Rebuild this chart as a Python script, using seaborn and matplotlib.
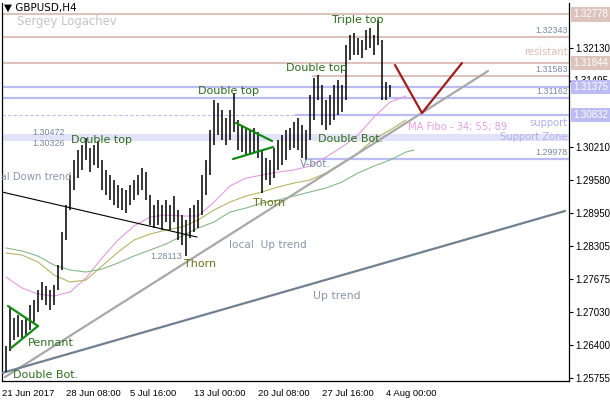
import matplotlib
matplotlib.use("Agg")
import matplotlib.pyplot as plt
import matplotlib.transforms as mtransforms
import seaborn as sns

# ---- data ----
# bar highs / lows (one per H4 bar, left to right)
highs = [1.2638, 1.2712, 1.2691, 1.2698, 1.2688, 1.2691, 1.2717, 1.2726, 1.2746, 1.2761,
         1.2753, 1.2746, 1.2755, 1.2794, 1.2857, 1.2910, 1.2968, 1.2997, 1.3016, 1.3026,
         1.3040, 1.3020, 1.3026, 1.3033, 1.2997, 1.2977, 1.2968, 1.2958, 1.2948, 1.2943,
         1.2939, 1.2948, 1.2958, 1.2968, 1.2981, 1.2973, 1.2929, 1.2910, 1.2920, 1.2910,
         1.2920, 1.2910, 1.2927, 1.2900, 1.2890, 1.2880, 1.2904, 1.2910, 1.2920, 1.2968,
         1.2997, 1.3054, 1.3113, 1.3107, 1.3093, 1.3078, 1.3093, 1.3126, 1.3074, 1.3064,
         1.3058, 1.3054, 1.3058, 1.3051, 1.3016, 1.3000, 1.2997, 1.3020, 1.3035, 1.3045,
         1.3054, 1.3058, 1.3070, 1.3078, 1.3064, 1.3054, 1.3122, 1.3155, 1.3161, 1.3141,
         1.3113, 1.3122, 1.3141, 1.3151, 1.3141, 1.3219, 1.3238, 1.3242, 1.3232, 1.3228,
         1.3248, 1.3252, 1.3238, 1.3267, 1.3228, 1.3147, 1.3141]
lows = [1.2587, 1.2628, 1.2649, 1.2654, 1.2653, 1.2658, 1.2668, 1.2684, 1.2703, 1.2726,
        1.2717, 1.2707, 1.2717, 1.2746, 1.2785, 1.2842, 1.2900, 1.2939, 1.2962, 1.2977,
        1.2997, 1.2973, 1.2987, 1.2981, 1.2939, 1.2929, 1.2920, 1.2910, 1.2904, 1.2900,
        1.2894, 1.2910, 1.2920, 1.2929, 1.2939, 1.2920, 1.2871, 1.2865, 1.2871, 1.2861,
        1.2877, 1.2861, 1.2877, 1.2842, 1.2832, 1.2811, 1.2846, 1.2857, 1.2865, 1.2890,
        1.2929, 1.2968, 1.3026, 1.3045, 1.3035, 1.3026, 1.3035, 1.3051, 1.3016, 1.3012,
        1.3004, 1.3006, 1.3012, 1.3000, 1.2933, 1.2958, 1.2948, 1.2962, 1.2977, 1.2987,
        1.2997, 1.3016, 1.3020, 1.3016, 1.3000, 1.2997, 1.3035, 1.3074, 1.3113, 1.3064,
        1.3054, 1.3064, 1.3074, 1.3084, 1.3089, 1.3113, 1.3190, 1.3199, 1.3199, 1.3194,
        1.3209, 1.3213, 1.3199, 1.3219, 1.3113, 1.3113, 1.3118]

# moving averages (Fibo 34 / 55 / 89), sampled every 4 bars
ma_x = [0, 4, 8, 12, 16, 20, 24, 28, 32, 36, 40, 44, 48, 52, 56, 60, 64, 68, 72, 76,
        80, 84, 88, 92, 96, 100]
ma34 = [1.27705, 1.27493, 1.27377, 1.27338, 1.27416, 1.27686, 1.28072, 1.28420, 1.28691,
        1.28865, 1.28903, 1.28884, 1.28884, 1.29154, 1.29464, 1.29618, 1.29676, 1.29734,
        1.29773, 1.29850, 1.30024, 1.30217, 1.30449, 1.30797, 1.31086, 1.31202]
ma55 = [1.28169, 1.28130, 1.27995, 1.27744, 1.27609, 1.27647, 1.27918, 1.28188, 1.28420,
        1.28536, 1.28613, 1.28671, 1.28807, 1.29000, 1.29154, 1.29270, 1.29348, 1.29444,
        1.29521, 1.29579, 1.29715, 1.29908, 1.30101, 1.30372, 1.30545, 1.30739]
ma89_x = ma_x + [102]
ma89 = [1.28266, 1.28208, 1.28111, 1.27937, 1.27841, 1.27802, 1.27860, 1.27976, 1.28111,
        1.28227, 1.28343, 1.28498, 1.28652, 1.28768, 1.28961, 1.29038, 1.29135, 1.29193,
        1.29270, 1.29348, 1.29425, 1.29541, 1.29715, 1.29850, 1.29966, 1.30120, 1.30159]

date_pos = [-1, 15, 31, 47, 63, 79, 95]
date_labels = ["21 Jun 2017", "28 Jun 08:00", "5 Jul 16:00", "13 Jul 00:00",
               "20 Jul 08:00", "27 Jul 16:00", "4 Aug 00:00"]
price_ticks = [1.32130, 1.30210, 1.29580, 1.28950, 1.28305, 1.27675, 1.27030, 1.26400, 1.25755]

resist_levels = [1.32778, 1.32343, 1.31844]
support_levels = [1.31375, 1.31162]
zone_low, zone_high = 1.30326, 1.30472

# trend lines: (x0, y0, x1, y1)
down_trend = (-1, 1.29348, 47.75, 1.28478)
local_up = (-0.25, 1.25773, 120.5, 1.31685)
up_trend = (-1, 1.25851, 139.75, 1.28981)
red_v_x = [97.25, 104, 114]
red_v_y = [1.31801, 1.30874, 1.31840]
pennant_x = [0.5, 8, 1.25]
pennant_y = [1.27145, 1.26759, 1.26334]
tri_top = (57.5, 1.30681, 66.5, 1.30333)
tri_bot = (56.75, 1.29985, 66.75, 1.30217)

# ---- drawing ----
sns.set_theme(style="white")
plt.rcParams["font.family"] = ["DejaVu Sans"]
num_font = ["Liberation Sans", "DejaVu Sans"]

fig = plt.figure(figsize=(6.1, 4.0), dpi=100)
ax = fig.add_axes([2 / 610, 19 / 400, 567 / 610, 378 / 400])
ax.set_xlim(-1, 140.75)
ax.set_ylim(1.25697, 1.32999)

pink_lvl = "#dcc4bc"
blue_lvl = "#bcbcf4"
lab_col = "#7888a0"
ann_col = "#2e6e1e"
gray_txt = "#8a96aa"

# support zone and horizontal levels
ax.axhspan(zone_low, zone_high, color="#e2e2f8", lw=0, zorder=0)
for lv in resist_levels:
    ax.axhline(lv, color=pink_lvl, lw=1.5, zorder=1)
ax.hlines(1.31583, 76.5, 140.75, color=pink_lvl, lw=1.5, zorder=1)
for lv in support_levels:
    ax.axhline(lv, color=blue_lvl, lw=1.6, zorder=1)
ax.hlines(1.30832, -1, 72.25, color=blue_lvl, lw=0.8, ls=(0, (3, 2)), zorder=1)
ax.hlines(1.30832, 72.25, 140.75, color=blue_lvl, lw=1.6, zorder=1)
ax.hlines(1.29978, 75.25, 140.75, color=blue_lvl, lw=1.6, zorder=1)

# moving averages
sns.lineplot(x=ma_x, y=ma34, ax=ax, color="#e29ce2", lw=0.8, zorder=2)
sns.lineplot(x=ma_x, y=ma55, ax=ax, color="#b8b468", lw=0.8, zorder=2)
sns.lineplot(x=ma89_x, y=ma89, ax=ax, color="#88b888", lw=0.8, zorder=2)

# trend lines
ax.plot(down_trend[::2], down_trend[1::2], color="black", lw=0.8, zorder=3)
ax.plot(local_up[::2], local_up[1::2], color="#a8a8a8", lw=1.6, zorder=3)
ax.plot(up_trend[::2], up_trend[1::2], color="#708090", lw=1.6, zorder=3)
ax.plot(red_v_x, red_v_y, color="#a41c1c", lw=1.6, zorder=3)
ax.plot(pennant_x, pennant_y, color="#138a13", lw=1.6, zorder=4)
ax.plot(tri_top[::2], tri_top[1::2], color="#138a13", lw=1.6, zorder=4)
ax.plot(tri_bot[::2], tri_bot[1::2], color="#138a13", lw=1.6, zorder=4)

# price bars
bar_x = list(range(len(highs)))
ax.vlines(bar_x, lows, highs, color="black", lw=1.1, zorder=3)

# pattern annotations
txt = dict(fontsize=8, zorder=5, va="center")
ax.text(16.25, 1.30352, "Double top", color=ann_col, **txt)
ax.text(48, 1.31299, "Double top", color=ann_col, **txt)
ax.text(70, 1.31743, "Double top", color=ann_col, **txt)
ax.text(81.5, 1.32671, "Triple top", color=ann_col, **txt)
ax.text(78, 1.30372, "Double Bot.", color=ann_col, **txt)
ax.text(73.5, 1.29889, "V-bot.", color=lab_col, fontsize=7.5, va="center", zorder=5)
ax.text(61.75, 1.29135, "Thorn", color="#6a7418", **txt)
ax.text(44.5, 1.27957, "Thorn", color="#6a7418", **txt)
ax.text(5.5, 1.26430, "Pennant", color=ann_col, **txt)
ax.text(1.75, 1.25812, "Double Bot.", color=ann_col, **txt)
ax.text(16.5, 1.29637, "local Down trend", color=gray_txt, fontsize=7.3, ha="right",
        va="center", clip_on=True)
ax.text(55.75, 1.28324, "local  Up trend", color=gray_txt, fontsize=7.6, va="center")
ax.text(76.75, 1.27338, "Up trend", color=gray_txt, fontsize=7.8, va="center")
ax.text(100.5, 1.30603, "MA Fibo - 34; 55; 89", color="#e8a2dc", fontsize=7.2, va="center")

small = dict(fontsize=6.4, color=lab_col, family=num_font)
ax.text(36, 1.28111, "1.28113", va="center", **small)
ax.text(6.5, 1.30488, "1.30472", va="center", **small)
ax.text(6.5, 1.30294, "1.30326", va="center", **small)

edge = mtransforms.blended_transform_factory(ax.transAxes, ax.transData)
for lv in [1.32343, 1.31583, 1.31162, 1.29978]:
    ax.annotate(f"{lv:.5f}", xy=(0.998, lv), xycoords=edge, xytext=(0, 1.5),
                textcoords="offset points", ha="right", va="bottom", **small)
ax.text(0.997, 1.32052, "resistant", transform=edge, ha="right", va="center",
        color="#e2bab2", fontsize=7.2)
ax.text(0.997, 1.30681, "support", transform=edge, ha="right", va="center",
        color="#b0b0ee", fontsize=7.2)
ax.text(0.997, 1.30410, "Support Zone", transform=edge, ha="right", va="center",
        color="#b0b0ee", fontsize=7.2)

# axes styling
ax.yaxis.tick_right()
ax.set_yticks(price_ticks)
ax.set_yticklabels([f"{p:.5f}" for p in price_ticks], family=num_font)
ax.set_xticks(date_pos)
ax.set_xticklabels(date_labels, ha="left", family=num_font)
ax.tick_params(axis="both", labelsize=7, length=3, width=0.8, pad=1.5, colors="black",
               direction="out")
ax.tick_params(axis="x", pad=3, labelsize=6.8)
ax.tick_params(axis="y", left=False, right=True)
ax.grid(False)
for side in ["left", "bottom", "right"]:
    ax.spines[side].set_color("black")
    ax.spines[side].set_linewidth(0.9)
ax.spines["top"].set_visible(False)

# right-edge price boxes
ax.text(1.007, 1.31495, "1.31495", transform=edge, ha="left", va="center",
        fontsize=7, family=num_font, color="black", clip_on=False)
ax.plot([1.0, 1.08], [1.31495, 1.31495], transform=edge, color="black", lw=0.9, clip_on=False)
for lv, col in [(1.32778, pink_lvl), (1.31844, pink_lvl), (1.31375, blue_lvl), (1.30832, blue_lvl)]:
    ax.text(1.007, lv, f"{lv:.5f}", transform=edge, ha="left", va="center", fontsize=7,
            family=num_font, color="white", clip_on=False, zorder=6,
            bbox=dict(boxstyle="square,pad=0.22", fc=col, ec="none"))

fig.text(4 / 610, 1 - 8 / 400, "\u25bc GBPUSD,H4", fontsize=7.5, va="center", color="black")
fig.text(17 / 610, 1 - 22 / 400, "Sergey Logachev", fontsize=8.4, va="center", color="#c4c4c4")

fig.savefig("out.png", dpi=100)
